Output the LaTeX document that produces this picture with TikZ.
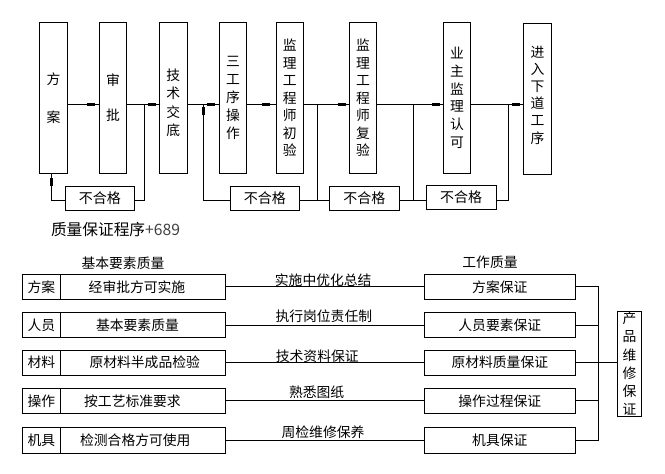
\documentclass[tikz,border=0pt]{standalone}
\usepackage{fontspec}
\setmainfont{Noto Sans CJK SC}
\usetikzlibrary{arrows.meta,decorations.markings}
\tikzset{
  ln/.style={line width=0.9pt, line join=miter},
  bx/.style={draw, ln, inner sep=0pt, outer sep=0pt, align=center, font=\fontsize{13.8pt}{16pt}\selectfont},
  tallbox/.style={bx, minimum height=151pt},
  failbox/.style={bx, minimum width=69pt, minimum height=24pt, font=\fontsize{14pt}{16pt}\selectfont},
  cell/.style={bx, minimum height=25pt},
  txt/.style={inner sep=0pt, outer sep=0pt, align=center, font=\fontsize{13.8pt}{16pt}\selectfont},
  lab/.style={txt, anchor=base},
  mk/.style={postaction={decorate, decoration={markings, mark=at position #1 with {\arrow{Rectangle[length=8pt,width=3pt]}}}}},
}
\begin{document}
\begin{tikzpicture}[x=1pt,y=-1pt]
\useasboundingbox (0,0) rectangle (665,474);
\coordinate (ml) at (0,104.3);
\coordinate (fb) at (0,200.3);
% top process boxes
\node[tallbox, minimum width=28.4pt, font=\fontsize{13.8pt}{38pt}\selectfont] (fa) at (53.5,97.8) {方\\案};
\node[tallbox, minimum width=27.4pt, font=\fontsize{13.8pt}{35pt}\selectfont] (sp) at (113,97.8) {审\\批};
\node[tallbox, minimum width=28pt, label={[txt, font=\fontsize{13.8pt}{18.5pt}\selectfont, yshift=-5pt]center:技\\术\\交\\底}] (js) at (173.3,97.8) {};
\node[tallbox, minimum width=27.4pt, font=\fontsize{13.8pt}{18pt}\selectfont] (sg) at (233,97.8) {三\\工\\序\\操\\作};
\node[tallbox, minimum width=27pt, font=\fontsize{13.8pt}{17.5pt}\selectfont] (cy) at (289.8,97.8) {监\\理\\工\\程\\师\\初\\验};
\node[tallbox, minimum width=27.4pt, font=\fontsize{13.8pt}{17.5pt}\selectfont] (fy) at (363,97.8) {监\\理\\工\\程\\师\\复\\验};
\node[tallbox, minimum width=27.4pt, font=\fontsize{13.8pt}{17.7pt}\selectfont] (yz) at (457,97.8) {业\\主\\监\\理\\认\\可};
\node[tallbox, minimum width=28.4pt, minimum height=150.7pt, label={[txt, font=\fontsize{13.8pt}{17.2pt}\selectfont, yshift=3.7pt]center:进\\入\\下\\道\\工\\序}] (jr) at (537.5,98.7) {};
% fail boxes
\node[failbox] (b1) at (99.8,198.3) {不合格};
\node[failbox] (b2) at (264.8,198.3) {不合格};
\node[failbox, minimum width=70pt] (b3) at (364.3,198.3) {不合格};
\node[failbox, minimum width=70.3pt] (b4) at (461.2,197.3) {不合格};
% main line
\draw[ln, mk=-4pt] (fa.east|-ml) -- (sp.west|-ml);
\draw[ln, mk=-3pt] (sp.east|-ml) -- (js.west|-ml);
\draw[ln, mk=-4pt] (js.east|-ml) -- (sg.west|-ml);
\draw[ln, mk=-6pt] (sg.east|-ml) -- (cy.west|-ml);
\draw[ln, mk=-3pt] (cy.east|-ml) -- (fy.west|-ml);
\draw[ln, mk=-3.3pt] (fy.east|-ml) -- (yz.west|-ml);
\draw[ln, mk=-3.3pt] (yz.east|-ml) -- (jr.west|-ml);
% feedback loops
\coordinate (j1) at (144,104.3);
\coordinate (j2) at (203.3,104.3);
\coordinate (j3) at (317.3,104.3);
\coordinate (j4) at (413.3,104.3);
\coordinate (j5) at (508.3,104.3);
\draw[ln, mk=-5pt] (b1.west|-fb) -| ([xshift=-2.2pt]fa.south);
\draw[ln] (b1.east|-fb) -| (j1);
\draw[ln, mk=-2.5pt] (b2.west|-fb) -| (j2);
\draw[ln] (b2.east|-fb) -- (b3.west|-fb);
\draw[ln] (j3) -- (j3|-fb);
\draw[ln] (b3.east|-fb) -- (b4.west|-fb);
\draw[ln] (j4) -- (j4|-fb);
\draw[ln] (b4.east|-fb) -| (j5);
% title
\node[txt, font=\fontsize{15.7pt}{18pt}\selectfont, anchor=west] (title) at (51,230) {质量保证程序\textcolor{darkgray}{+689}};
% bottom section
\node[txt] (h1) at (123,263.3) {基本要素质量};
\node[txt] (h2) at (490,262.3) {工作质量};
% row 1
\node[cell, minimum width=38pt] (l1) at (41.3,286.8) {方案};
\node[cell, minimum width=165.4pt] (c1) at (143,286.8) {};
\node[txt] (t1) at (137,287.7) {经审批方可实施};
\node[cell, minimum width=151pt] (r1) at (499.8,286.8) {方案保证};
% row 2
\node[cell, minimum width=38pt, minimum height=24.6pt] (l2) at (41.3,325) {人员};
\node[cell, minimum width=165.4pt, minimum height=24.6pt] (c2) at (143,325) {};
\node[txt] (t2) at (137.5,325) {基本要素质量};
\node[cell, minimum width=151pt, minimum height=24.6pt] (r2) at (499.8,325) {人员要素保证};
% row 3
\node[cell, minimum width=38pt, minimum height=24.7pt] (l3) at (41.3,362.7) {材料};
\node[cell, minimum width=165.4pt, minimum height=24.7pt] (c3) at (143,362.7) {};
\node[txt] (t3) at (144.7,362.7) {原材料半成品检验};
\node[cell, minimum width=151pt, minimum height=24.7pt] (r3) at (499.8,362.7) {原材料质量保证};
% row 4
\node[cell, minimum width=38pt] (l4) at (41.3,400.8) {操作};
\node[cell, minimum width=165.4pt] (c4) at (143,400.8) {};
\node[txt] (t4) at (132.5,400.8) {按工艺标准要求};
\node[cell, minimum width=151pt] (r4) at (499.8,400.8) {操作过程保证};
% row 5
\node[cell, minimum width=38pt, minimum height=26pt] (l5) at (41.3,440.3) {机具};
\node[cell, minimum width=165.4pt, minimum height=26pt] (c5) at (143,440.3) {};
\node[txt] (t5) at (135.3,440.3) {检测合格方可使用};
\node[cell, minimum width=151pt, minimum height=26pt] (r5) at (499.8,440.3) {机具保证};
% connectors with labels
\draw[ln] (c1.east) -- node[lab, pos=0.491, yshift=1.5pt] {实施中优化总结} (r1.west);
\draw[ln] (c2.east) -- node[lab, pos=0.494, yshift=3.1pt] {执行岗位责任制} (r2.west);
\draw[ln] (c3.east) -- node[lab, pos=0.461, yshift=1.4pt] {技术资料保证} (r3.west);
\draw[ln] (c4.east) -- node[lab, pos=0.458, yshift=3.8pt] {熟悉图纸} (r4.west);
\draw[ln] (c5.east) -- node[lab, pos=0.49, yshift=2.5pt] {周检维修保养} (r5.west);
% bus to product box
\coordinate (bus) at (598.3,0);
\node[bx, minimum width=24.4pt, minimum height=105.7pt, font=\fontsize{13.8pt}{18.3pt}\selectfont] (pw) at (629.5,363.8) {产\\品\\维\\修\\保\\证};
\draw[ln] (r1.east) -- (r1.east-|bus) -- (r5.east-|bus) -- (r5.east);
\draw[ln] (r2.east) -- (r2.east-|bus);
\draw[ln] (r3.east) -- (r3.east-|bus);
\draw[ln] (r4.east) -- (r4.east-|bus);
\draw[ln] (r3.east-|bus) -- (pw.west|-r3.east);
\end{tikzpicture}
\end{document}
